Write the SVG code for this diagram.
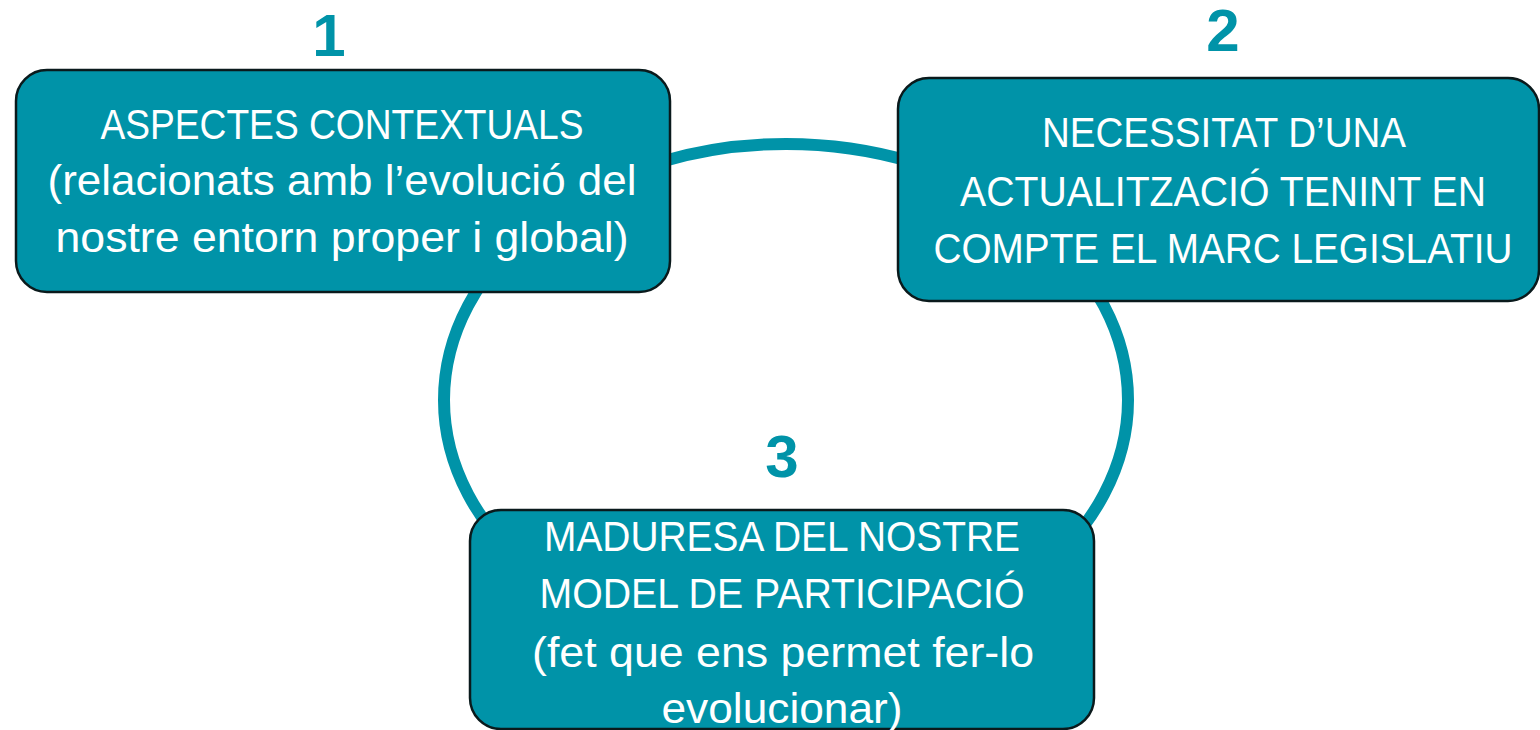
<svg xmlns="http://www.w3.org/2000/svg" width="1540" height="730" viewBox="0 0 1540 730">
  <style>
    .box { fill: #0093A8; stroke: #0a1a1c; stroke-width: 2.5; }
    .lbl { fill: #ffffff; font-family: "Liberation Sans", Arial, sans-serif; font-size: 42px; text-anchor: middle; }
    .num { fill: #0093A8; font-family: "Liberation Sans", Arial, sans-serif; font-weight: bold; font-size: 60px; text-anchor: middle; }
    .ring { fill: none; stroke: #0093A8; stroke-width: 12; }
  </style>
  <rect width="1540" height="730" fill="#ffffff"/>
  <g id="connectors">
    <ellipse class="ring" cx="786" cy="400" rx="342" ry="256"/>
  </g>
  <g id="node1">
    <text class="num" x="329" y="56">1</text>
    <rect class="box" x="16" y="70" width="654" height="222" rx="31" ry="31"/>
    <text class="lbl" x="342" y="139" textLength="483" lengthAdjust="spacingAndGlyphs">ASPECTES CONTEXTUALS</text>
    <text class="lbl" x="342" y="195" textLength="589" lengthAdjust="spacingAndGlyphs">(relacionats amb l’evolució del</text>
    <text class="lbl" x="342" y="252" textLength="573" lengthAdjust="spacingAndGlyphs">nostre entorn proper i global)</text>
  </g>
  <g id="node2">
    <text class="num" x="1223" y="51">2</text>
    <rect class="box" x="898" y="78" width="641" height="223" rx="31" ry="31"/>
    <text class="lbl" x="1224" y="147" textLength="364" lengthAdjust="spacingAndGlyphs">NECESSITAT D’UNA</text>
    <text class="lbl" x="1223" y="206" textLength="526" lengthAdjust="spacingAndGlyphs">ACTUALITZACIÓ TENINT EN</text>
    <text class="lbl" x="1223" y="263" textLength="579" lengthAdjust="spacingAndGlyphs">COMPTE EL MARC LEGISLATIU</text>
  </g>
  <g id="node3">
    <text class="num" x="782" y="477">3</text>
    <rect class="box" x="470" y="510" width="624" height="219" rx="31" ry="31"/>
    <text class="lbl" x="782" y="551" textLength="476" lengthAdjust="spacingAndGlyphs">MADURESA DEL NOSTRE</text>
    <text class="lbl" x="782" y="608" textLength="485" lengthAdjust="spacingAndGlyphs">MODEL DE PARTICIPACIÓ</text>
    <text class="lbl" x="783" y="667" textLength="502" lengthAdjust="spacingAndGlyphs">(fet que ens permet fer-lo</text>
    <text class="lbl" x="782" y="723" textLength="241" lengthAdjust="spacingAndGlyphs">evolucionar)</text>
  </g>
</svg>
